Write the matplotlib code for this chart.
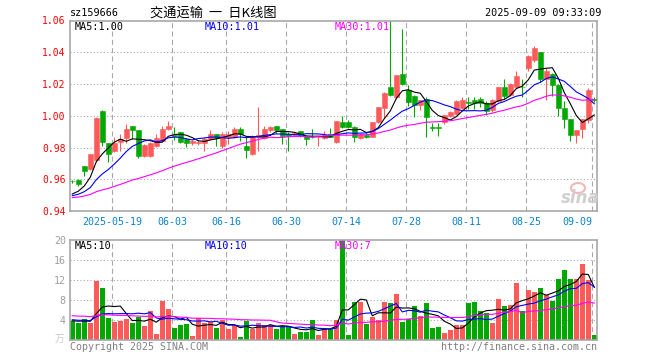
import numpy as np
import matplotlib
matplotlib.use("Agg")
import matplotlib.pyplot as plt
from matplotlib.patches import Ellipse

# ---------------- data ----------------
tick_labels = ["2025-05-19", "06-03", "06-16", "06-30", "07-14", "07-28", "08-11", "08-25", "09-09"]
tick_index = [7, 17, 26, 36, 46, 56, 66, 76, 87]

opens = [0.9590, 0.9596, 0.9681, 0.9665, 0.9720, 1.0027, 0.9827, 0.9775, 0.9835, 0.9858,
         0.9933, 0.9908, 0.9748, 0.9748, 0.9810, 0.9842, 0.9915, 0.9880, 0.9896, 0.9854,
         0.9831, 0.9830, 0.9831, 0.9852, 0.9883, 0.9810, 0.9863, 0.9867, 0.9917, 0.9808,
         0.9758, 0.9867, 0.9862, 0.9910, 0.9933, 0.9914, 0.9885, 0.9877, 0.9904, 0.9873,
         0.9873, 0.9865, 0.9860, 0.9883, 0.9833, 0.9963, 0.9958, 0.9927, 0.9862, 0.9877,
         0.9867, 0.9958, 1.0050, 1.0180, 1.0115, 1.0265, 1.0163, 1.0125, 1.0069, 1.0104,
         0.9929, 0.9929, 0.9960, 0.9998, 1.0014, 1.0046, 1.0083, 1.0102, 1.0104, 1.0083,
         1.0039, 1.0091, 1.0180, 1.0133, 1.0180, 1.0184, 1.0300, 1.0352, 1.0400, 1.0233,
         1.0265, 1.0196, 1.0046, 0.9977, 0.9879, 0.9914, 0.9973, 1.0106]
highs = [0.9597, 0.9600, 0.9683, 0.9760, 0.9990, 1.0035, 0.9830, 0.9865, 0.9883, 0.9946,
         0.9935, 0.9910, 0.9820, 0.9835, 0.9883, 0.9935, 0.9967, 0.9930, 0.9900, 0.9862,
         0.9846, 0.9845, 0.9867, 0.9908, 0.9885, 0.9900, 0.9904, 0.9930, 0.9927, 0.9867,
         0.9880, 1.0052, 0.9935, 0.9935, 0.9935, 0.9916, 0.9898, 0.9900, 0.9906, 0.9875,
         0.9915, 0.9875, 0.9904, 0.9925, 0.9966, 0.9998, 0.9975, 0.9935, 0.9894, 0.9896,
         0.9962, 1.0056, 1.0148, 1.0610, 1.0258, 1.0546, 1.0196, 1.0129, 1.0102, 1.0120,
         0.9952, 0.9952, 1.0005, 1.0030, 1.0098, 1.0117, 1.0119, 1.0117, 1.0121, 1.0096,
         1.0104, 1.0182, 1.0229, 1.0204, 1.0285, 1.0233, 1.0380, 1.0442, 1.0402, 1.0302,
         1.0267, 1.0198, 1.0096, 0.9979, 0.9912, 0.9980, 1.0177, 1.0117]
lows = [0.9577, 0.9555, 0.9620, 0.9660, 0.9710, 0.9810, 0.9706, 0.9770, 0.9779, 0.9831,
        0.9852, 0.9731, 0.9740, 0.9740, 0.9806, 0.9840, 0.9908, 0.9850, 0.9830, 0.9804,
        0.9815, 0.9815, 0.9775, 0.9850, 0.9810, 0.9800, 0.9825, 0.9860, 0.9842, 0.9731,
        0.9755, 0.9780, 0.9855, 0.9895, 0.9890, 0.9825, 0.9780, 0.9875, 0.9869, 0.9817,
        0.9858, 0.9810, 0.9854, 0.9865, 0.9830, 0.9925, 0.9925, 0.9833, 0.9852, 0.9858,
        0.9863, 0.9954, 0.9985, 1.0127, 1.0105, 1.0196, 1.0064, 0.9990, 1.0035, 0.9863,
        0.9904, 0.9873, 0.9945, 0.9990, 1.0010, 1.0042, 1.0044, 1.0042, 1.0058, 1.0002,
        1.0025, 1.0085, 1.0104, 1.0125, 1.0175, 1.0117, 1.0285, 1.0340, 1.0210, 1.0102,
        1.0123, 0.9998, 0.9920, 0.9840, 0.9831, 0.9858, 0.9956, 1.0085]
closes = [0.9586, 0.9567, 0.9654, 0.9758, 0.9985, 0.9833, 0.9760, 0.9831, 0.9856, 0.9915,
          0.9910, 0.9748, 0.9817, 0.9827, 0.9858, 0.9915, 0.9935, 0.9874, 0.9835, 0.9829,
          0.9838, 0.9836, 0.9852, 0.9883, 0.9862, 0.9883, 0.9883, 0.9917, 0.9883, 0.9783,
          0.9873, 0.9880, 0.9915, 0.9929, 0.9910, 0.9873, 0.9873, 0.9894, 0.9873, 0.9852,
          0.9863, 0.9873, 0.9877, 0.9869, 0.9964, 0.9927, 0.9929, 0.9865, 0.9888, 0.9863,
          0.9958, 1.0052, 1.0146, 1.0133, 1.0255, 1.0200, 1.0087, 1.0069, 1.0098, 0.9990,
          0.9925, 0.9925, 1.0002, 1.0025, 1.0096, 1.0102, 1.0080, 1.0081, 1.0079, 1.0033,
          1.0098, 1.0180, 1.0123, 1.0202, 1.0252, 1.0178, 1.0378, 1.0429, 1.0231, 1.0280,
          1.0196, 1.0046, 0.9977, 0.9879, 0.9910, 0.9977, 1.0160, 1.0098]
# closes of the 29 sessions before the visible window (for the moving averages)
prior_closes = [0.946, 0.947, 0.945, 0.948, 0.949, 0.947, 0.946, 0.948, 0.950, 0.949,
                0.947, 0.946, 0.948, 0.949, 0.950, 0.948, 0.947, 0.949, 0.948, 0.950,
                0.948, 0.949, 0.950, 0.949, 0.947, 0.948, 0.949, 0.948, 0.950]

volumes = [3.87, 3.40, 4.20, 3.40, 11.73, 10.40, 4.47, 3.67, 3.87, 4.27,
           3.40, 4.67, 2.87, 5.80, 1.27, 7.87, 6.33, 2.47, 3.07, 3.27,
           0.87, 4.47, 3.40, 3.67, 2.47, 4.00, 2.27, 3.13, 0.67, 3.80,
           2.27, 3.40, 3.07, 3.07, 2.20, 2.87, 2.87, 1.33, 1.67, 1.67,
           4.07, 1.07, 2.47, 2.20, 4.07, 20.50, 1.07, 7.67, 7.67, 3.33,
           4.67, 4.07, 7.67, 7.47, 9.27, 3.67, 4.20, 6.87, 4.87, 7.47,
           2.47, 2.73, 1.47, 2.07, 3.07, 3.00, 7.47, 7.67, 5.87, 5.53,
           3.47, 8.33, 6.87, 7.13, 11.47, 5.80, 10.07, 9.67, 10.33, 9.13,
           7.87, 12.27, 14.07, 12.27, 12.13, 15.27, 11.93, 1.13]
prior_volumes = [5.6, 4.9, 6.2, 5.1, 4.8, 5.5, 6.0, 5.2, 4.7, 5.4,
                 5.9, 5.0, 4.6, 5.8, 5.3, 5.1, 4.9, 5.6, 5.2, 5.1,
                 4.5, 4.2, 4.0, 4.6, 4.3, 3.8, 4.1, 3.6, 4.1]

price_ticks = [0.94, 0.96, 0.98, 1.00, 1.02, 1.04, 1.06]
vol_ticks = [4, 8, 12, 16, 20]

# ---------------- helpers ----------------
W, H = 660, 360
RED = "#FF5A5A"
GREEN = "#00A800"
GRID = "#A8A8A8"
MONO = "DejaVu Sans Mono"


def moving_avg(prior, vals, n):
    full = np.array(list(prior) + list(vals), dtype=float)
    out = np.array([full[i - n + 1:i + 1].mean() for i in range(len(prior), len(full))])
    return out


fig = plt.figure(figsize=(W / 100, H / 100), dpi=100)


def px_axes(l, t, r, b):
    return fig.add_axes([l / W, 1 - b / H, (r - l) / W, (b - t) / H])


def ftext(x, y, s, **kw):
    return fig.text(x / W, 1 - y / H, s, **kw)


ax = px_axes(70, 20.5, 597, 211)
axv = px_axes(70, 240, 597, 340.3)

o = np.array(opens); h = np.array(highs); l = np.array(lows); c = np.array(closes)
v = np.array(volumes)
x = np.arange(len(c))
colors = [RED if cc >= oo else GREEN for oo, cc in zip(o, c)]

# ---------------- grid ----------------
grid_x = [i - 0.33 for i in tick_index]
for a in (ax, axv):
    for gx in grid_x:
        a.axvline(gx, color=GRID, lw=0.8, ls=(0, (4.5, 3.0)), zorder=0)
for yv in price_ticks[1:-1]:
    ax.axhline(yv, color=GRID, lw=0.8, ls=(0, (1.0, 2.0)), zorder=0)
for yv in vol_ticks[:-1]:
    axv.axhline(yv, color=GRID, lw=0.8, ls=(0, (1.0, 2.0)), zorder=0)

# ---------------- candles ----------------
ax.vlines(x, l, h, colors=colors, lw=0.8, zorder=2)
body_bottom = np.minimum(o, c)
body_h = np.maximum(np.abs(c - o), 0.0004)
ax.bar(x, body_h, bottom=body_bottom, width=0.8, color=colors, edgecolor=colors,
       linewidth=0.4, zorder=3)

ma5 = moving_avg(prior_closes, closes, 5)
ma10 = moving_avg(prior_closes, closes, 10)
ma30 = moving_avg(prior_closes, closes, 30)
ax.plot(x, ma5, color="black", lw=0.8, zorder=4)
ax.plot(x, ma10, color="#0000FF", lw=0.8, zorder=4)
ax.plot(x, ma30, color="#FF00FF", lw=0.8, zorder=4)

# ---------------- volume ----------------
axv.bar(x, v, width=0.8, color=colors, linewidth=0, zorder=2)
vma5 = moving_avg(prior_volumes, volumes, 5)
vma10 = moving_avg(prior_volumes, volumes, 10)
vma30 = moving_avg(prior_volumes, volumes, 30)
axv.plot(x, vma5, color="black", lw=0.8, zorder=4)
axv.plot(x, vma10, color="#0000FF", lw=0.8, zorder=4)
axv.plot(x, vma30, color="#FF00FF", lw=0.8, zorder=4)

# ---------------- axes styling ----------------
for a in (ax, axv):
    a.set_xlim(-0.38, 87.45)
    for s in a.spines.values():
        s.set_color(GRID)
        s.set_linewidth(1.2)
ax.set_ylim(0.94, 1.06)
axv.set_ylim(0, 20)

ax.set_yticks(price_ticks)
ax.set_yticklabels([f"{t:.2f}" for t in price_ticks], family=MONO, fontsize=7)
ax.tick_params(axis="y", length=0, pad=3, labelcolor="#FF0000")
ax.set_xticks(grid_x)
ax.set_xticklabels(tick_labels, family=MONO, fontsize=7.2)
ax.tick_params(axis="x", length=0, pad=4, labelcolor="#0A84CC")
ax.get_xticklabels()[-1].set_horizontalalignment("right")

axv.set_yticks(vol_ticks)
axv.set_yticklabels([str(t) for t in vol_ticks], family=MONO, fontsize=7.2)
axv.tick_params(axis="y", length=0, pad=3, labelcolor="#A0A0A0")
axv.set_xticks([])

# ---------------- texts ----------------
ftext(70, 13, "sz159666", ha="left", va="center", family=MONO, fontsize=7.3)
ftext(213, 13, "交通运输  一  日K线图", ha="center", va="center",
      family=["Noto Sans CJK SC", "DejaVu Sans"], fontsize=9.5)
ftext(601, 13, "2025-09-09 09:33:09", ha="right", va="center", family=MONO, fontsize=7.3)

ftext(75, 26.5, "MA5:1.00", ha="left", va="center", family=MONO, fontsize=7.3, color="black")
ftext(205, 26.5, "MA10:1.01", ha="left", va="center", family=MONO, fontsize=7.3, color="#0000FF")
ftext(335, 26.5, "MA30:1.01", ha="left", va="center", family=MONO, fontsize=7.3, color="#FF00FF")

ftext(75, 246, "MA5:10", ha="left", va="center", family=MONO, fontsize=7.3, color="black")
ftext(205, 246, "MA10:10", ha="left", va="center", family=MONO, fontsize=7.3, color="#0000FF")
ftext(335, 246, "MA30:7", ha="left", va="center", family=MONO, fontsize=7.3, color="#FF00FF")

ftext(64, 339, "万", ha="right", va="center", family=["Noto Sans CJK SC", "DejaVu Sans"],
      fontsize=7, color="#C8C8C8")
ftext(70, 347, "Copyright 2025 SINA.COM", ha="left", va="center", family=MONO,
      fontsize=7.2, color="#808080")
ftext(597, 347, "http://finance.sina.com.cn", ha="right", va="center", family=MONO,
      fontsize=7.2, color="#808080")

# sina watermark
fig.patches.append(Ellipse((578 / W, 1 - 188 / H), 14 / W, 10 / H, transform=fig.transFigure,
                           facecolor="none", edgecolor="#F2B8B8", lw=1.5))
ftext(580, 198, "sina", ha="center", va="center", fontsize=12, style="italic",
      weight="bold", color="#CFCFCF")

fig.savefig("out.png", dpi=100)
